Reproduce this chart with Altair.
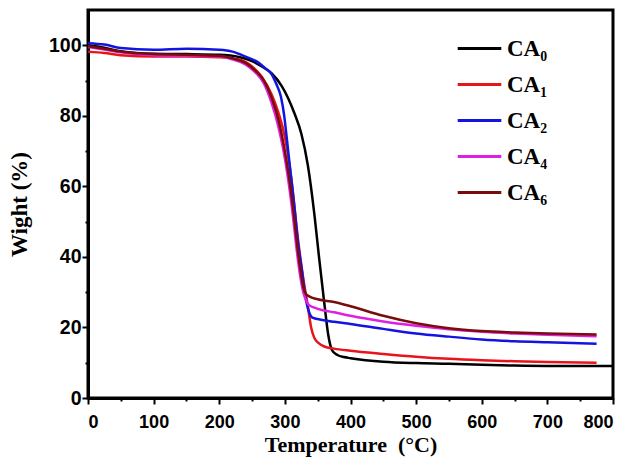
import altair as alt
import pandas as pd

names = ["CA\u2080", "CA\u2081", "CA\u2082", "CA\u2084", "CA\u2086"]
colors = ["#000000", "#e8141c", "#1414e0", "#e020e0", "#7a0c0c"]

t_ca0 = [0, 25, 50, 100, 150, 200, 230, 250, 265, 280, 295, 305, 315, 325, 335, 345, 352, 360, 366, 372, 380, 390, 400, 450, 500, 550, 600, 650, 700, 750, 800]
w_ca0 = [100, 99.3, 98.3, 97.6, 97.5, 97.3, 96.7, 95.5, 94, 92, 88.5, 85, 80.5, 75, 66, 52, 40, 27, 18, 13.5, 12.2, 11.6, 11.3, 10.3, 9.9, 9.7, 9.4, 9.2, 9.1, 9.1, 9.1]

t_ca1 = [0, 25, 50, 100, 150, 200, 230, 250, 265, 280, 290, 300, 310, 320, 328, 335, 340, 345, 352, 360, 375, 400, 450, 500, 550, 600, 650, 700, 775]
w_ca1 = [98.2, 97.8, 97.2, 96.8, 96.8, 96.6, 96, 94, 91, 86, 81, 74, 62, 45, 34, 26, 20, 17, 15.5, 14.6, 14, 13.4, 12.5, 11.7, 11.1, 10.7, 10.4, 10.2, 10]

t_ca2 = [0, 25, 50, 100, 150, 200, 220, 240, 258, 270, 279, 287, 294, 299, 303, 308, 314, 320, 326, 331, 335, 342, 355, 375, 400, 450, 500, 550, 600, 650, 700, 775]
w_ca2 = [100.6, 100.2, 99.2, 98.7, 99, 98.7, 98.2, 96.8, 95.3, 93.5, 92, 89, 85.4, 80, 73.5, 65, 55, 44, 36, 29, 25.5, 22.8, 22.2, 21.6, 21, 19.6, 18.3, 17.4, 16.6, 16.1, 15.8, 15.4]

t_ca4 = [0, 25, 50, 100, 150, 200, 220, 240, 255, 268, 280, 290, 298, 305, 312, 318, 323, 328, 332, 336, 345, 360, 375, 400, 450, 500, 550, 600, 650, 700, 775]
w_ca4 = [99.5, 98.8, 98, 97.2, 97, 96.8, 96, 94.6, 92.3, 89.2, 83.5, 77, 70, 62, 52, 42, 35, 30, 27.8, 26.5, 25.6, 24.8, 24.3, 23.3, 21.7, 20.5, 19.5, 18.8, 18.3, 17.9, 17.5]

t_ca6 = [0, 25, 50, 100, 150, 200, 220, 240, 255, 268, 280, 290, 298, 306, 313, 319, 324, 328, 332, 337, 350, 375, 400, 450, 500, 550, 600, 650, 700, 775]
w_ca6 = [99.7, 99, 98.2, 97.5, 97.3, 97, 96.3, 95, 92.8, 90, 85, 79, 72, 63, 53, 43, 36, 31.5, 29.5, 28.8, 28, 27.2, 26, 23.3, 21.2, 19.8, 19, 18.6, 18.3, 18]

series = [(names[0], t_ca0, w_ca0), (names[1], t_ca1, w_ca1), (names[2], t_ca2, w_ca2),
          (names[3], t_ca4, w_ca4), (names[4], t_ca6, w_ca6)]
rows = []
for name, ts, ws in series:
    for i, (t, w) in enumerate(zip(ts, ws)):
        rows.append({"series": name, "T": t, "W": w, "i": i})
df = pd.DataFrame(rows)

x_ticks = list(range(0, 801, 50))
y_ticks = list(range(0, 101, 10))

chart = alt.Chart(df).mark_line(strokeWidth=2.5, interpolate="monotone").encode(
    x=alt.X("T:Q", title="Temperature\u00a0 (\u00b0C)",
            scale=alt.Scale(domain=[0, 800], nice=False),
            axis=alt.Axis(values=x_ticks,
                          labelExpr="datum.value % 100 == 0 ? datum.label : ''",
                          tickSize={"condition": {"test": "datum.value % 100 != 0", "value": 3}, "value": 6},
                          labelPadding=9, titleY=53, titleFontSize=22,
                          titleBaseline="alphabetic", grid=False)),
    y=alt.Y("W:Q", title="Wight (%)",
            scale=alt.Scale(domain=[0, 110], nice=False),
            axis=alt.Axis(values=y_ticks,
                          labelExpr="datum.value % 20 == 0 ? datum.label : ''",
                          tickSize={"condition": {"test": "datum.value % 20 != 0", "value": 3}, "value": 6},
                          labelFontSize=19.5,
                          labelPadding=1, titleX=-62, titleBaseline="alphabetic", grid=False)),
    color=alt.Color("series:N", sort=names,
                    scale=alt.Scale(domain=names, range=colors),
                    legend=alt.Legend(orient="none", legendX=368, legendY=15, title=None,
                                      symbolType="stroke", symbolSize=1900, symbolStrokeWidth=3,
                                      labelFont="Liberation Serif", labelFontSize=23,
                                      labelFontWeight="bold", labelColor="black",
                                      labelOffset=4, rowPadding=-8, padding=0)),
    order="i:Q",
).properties(
    width=525, height=388, autosize="none",
    padding={"left": 88, "top": 10, "right": 19, "bottom": 59},
).configure_view(
    stroke="black", strokeWidth=3
).configure_axis(
    domainColor="black", domainWidth=3, tickColor="black", tickWidth=2,
    labelFont="Liberation Sans", labelFontSize=18, labelFontWeight="bold", labelColor="black",
    titleFont="Liberation Serif", titleFontSize=23, titleFontWeight="bold", titleColor="black",
)

chart.save("out.html", embed_options={"renderer": "svg", "actions": False})
